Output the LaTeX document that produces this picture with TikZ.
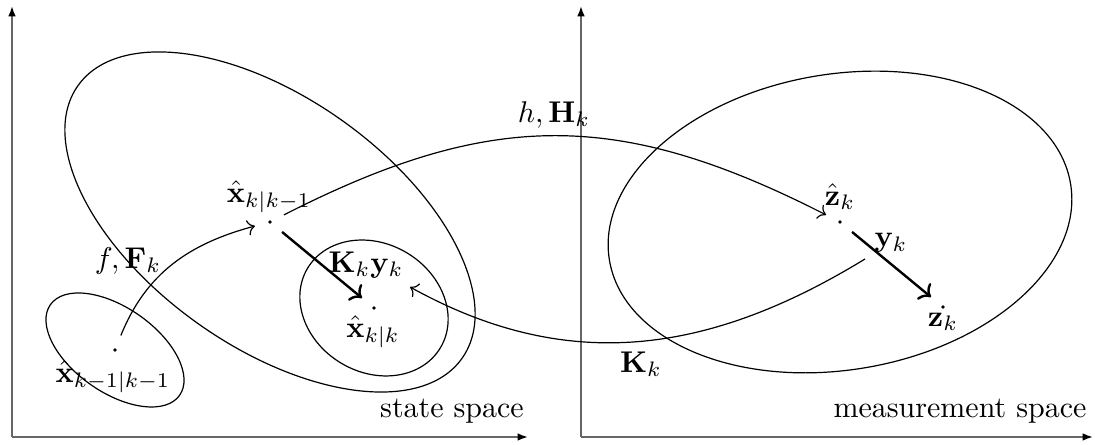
\documentclass[tikz,border=0pt]{standalone}
\usetikzlibrary{arrows.meta}
\begin{document}
\begin{tikzpicture}[x=0.3333pt, y=0.3333pt,
  dotpt/.style={circle, fill, inner sep=0pt, minimum size=1.2pt, outer sep=4.6pt},
  lab/.style={inner sep=0pt},
  conn/.style={->, line width=0.4pt},
  upd/.style={->, line width=0.8pt},
  axis/.style={black!60, line width=0.6pt, -{Latex[color=black,length=3.5pt,width=2.6pt]}},
  ell/.style={line width=0.4pt}]
\useasboundingbox (0,0) rectangle (1095,445);
% axes
\coordinate (o1) at (12,8); \coordinate (xa1) at (528,8); \coordinate (ya1) at (12,439);
\coordinate (o2) at (581,8); \coordinate (xa2) at (1093,8); \coordinate (ya2) at (581,439);
\draw[axis] (o1) -- (xa1);
\draw[axis] (o1) -- (ya1);
\draw[axis] (o2) -- (xa2);
\draw[axis] (o2) -- (ya2);
% ellipses
\draw[ell, rotate around={-35:(115,95)}] (115,95) ellipse [x radius=26.3pt, y radius=14.1pt];
\draw[ell, rotate around={-35.4:(270,223)}] (270,223) ellipse [x radius=78.5pt, y radius=41.5pt];
\draw[ell, rotate around={-31:(374,137)}] (374,137) ellipse [x radius=25.8pt, y radius=21.4pt];
\draw[ell, rotate around={9.4:(840,223)}] (840,223) ellipse [x radius=77.9pt, y radius=49.3pt];
% points
\node[dotpt] (xold) at (115,95) {};
\node[dotpt] (xprior) at (270,223) {};
\node[dotpt] (xpost) at (374,137) {};
\node[dotpt] (zhat) at (840,223) {};
\node[dotpt] (zmeas) at (943,138) {};
% labels
\node[lab] (lxold) at (113,68) {$\hat{\mathbf{x}}_{k-1|k-1}$};
\node[lab] (lf) at (128,184) {$f,\mathbf{F}_k$};
\node[lab] (lxprior) at (269,248) {$\hat{\mathbf{x}}_{k|k-1}$};
\node[lab] (lKy) at (366,180) {$\mathbf{K}_k\mathbf{y}_k$};
\node[lab] (lxpost) at (373,113) {$\hat{\mathbf{x}}_{k|k}$};
\node[lab] (lh) at (554,330) {$h,\mathbf{H}_k$};
\node[lab] (lzhat) at (840,248) {$\hat{\mathbf{z}}_k$};
\node[lab] (ly) at (891,202) {$\mathbf{y}_k$};
\node[lab] (lz) at (943,123) {$\mathbf{z}_k$};
\node[lab] (lK) at (641,81) {$\mathbf{K}_k$};
\node[lab] (lss) at (452,34) {state space};
\node[lab] (lms) at (960,34) {measurement space};
% connectors
\draw[conn] (xold) to[out=68, in=195] (xprior);
\draw[conn] (xprior) to[out=27, in=153, looseness=1.1] (zhat);
\draw[upd] (xprior) -- (xpost);
\draw[upd] (zhat) -- (zmeas);
\coordinate (kfrom) at (865,186);
\coordinate (kto) at (410,158);
\draw[conn] (kfrom) .. controls (700,85) and (560,75) .. (kto);
\end{tikzpicture}
\end{document}
